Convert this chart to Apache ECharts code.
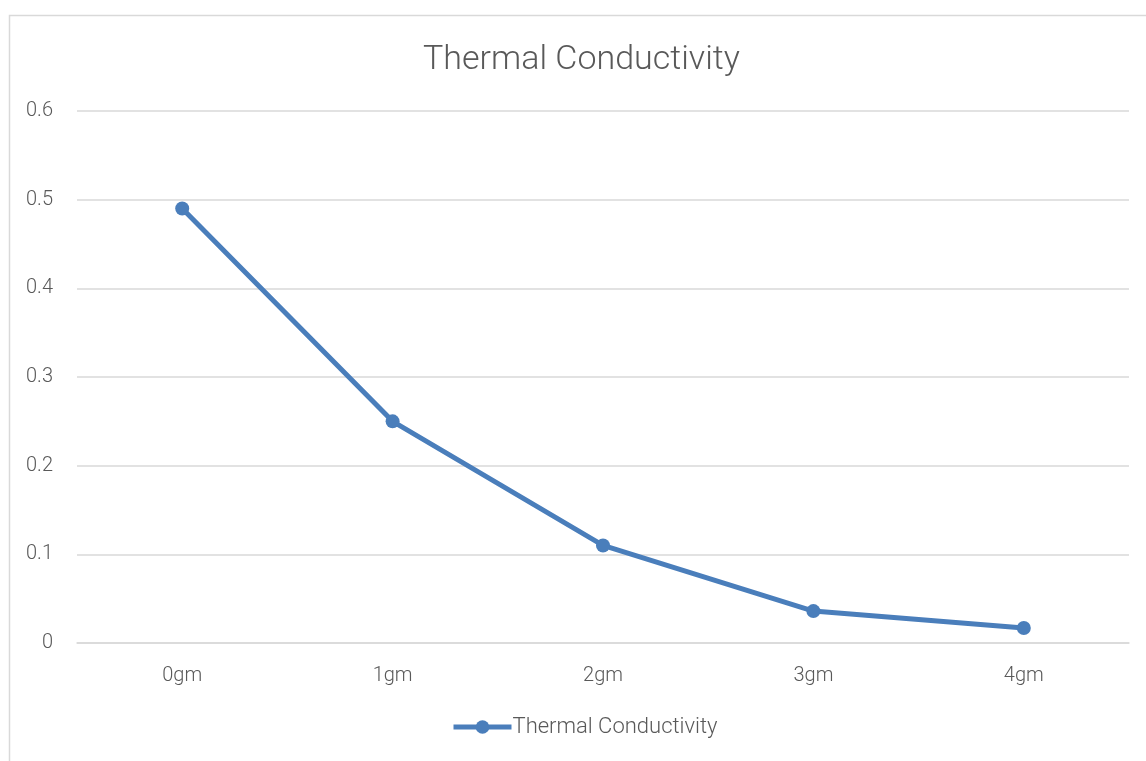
<!DOCTYPE html>
<html><head><meta charset="utf-8">
<script src="https://cdn.jsdelivr.net/npm/echarts@6/dist/echarts.min.js"></script>
<style>html,body{margin:0;padding:0;background:#fff}#c{width:1146px;height:761px}</style>
</head><body><div id="c"></div>
<script>
const categories = ['0gm', '1gm', '2gm', '3gm', '4gm'];
const thermalConductivity = [0.49, 0.25, 0.11, 0.036, 0.017];
const seriesName = 'Thermal Conductivity';

const chart = echarts.init(document.getElementById('c'));
chart.setOption({
  backgroundColor: '#fff',
  animation: false,
  graphic: [{
    type: 'rect', left: 7, top: 13,
    shape: { width: 1200, height: 800 },
    style: { fill: 'none', stroke: '#d9d9d9', lineWidth: 1.5 },
    silent: true
  }],
  title: {
    text: 'Thermal Conductivity', left: 418, top: 38,
    textStyle: { fontFamily: 'Roboto', fontWeight: 300, fontSize: 34, color: '#595959' }
  },
  legend: {
    bottom: 18, left: 446,
    itemWidth: 58, itemHeight: 17, itemGap: 10,
    lineStyle: { width: 5 },
    textStyle: { fontFamily: 'Roboto', fontWeight: 300, fontSize: 22, color: '#595959', padding: [0, 0, 0, -4] },
    data: [seriesName]
  },
  grid: { left: 77, right: 17, top: 111, bottom: 118, containLabel: false },
  xAxis: {
    type: 'category', data: categories, boundaryGap: true,
    axisLine: { lineStyle: { color: '#d9d9d9', width: 1.5 } },
    axisTick: { show: false },
    axisLabel: { fontFamily: 'Roboto', fontWeight: 300, fontSize: 20, color: '#595959', margin: 23 }
  },
  yAxis: {
    type: 'value', min: 0, max: 0.6, interval: 0.1,
    axisLine: { show: false }, axisTick: { show: false },
    splitLine: { lineStyle: { color: '#d9d9d9', width: 1.5 } },
    axisLabel: { fontFamily: 'Roboto', fontWeight: 300, fontSize: 20, color: '#595959', margin: 24,
      formatter: v => String(Math.round(v * 10) / 10) }
  },
  series: [{
    name: seriesName, type: 'line', data: thermalConductivity,
    symbol: 'circle', symbolSize: 14,
    lineStyle: { color: '#4a7ebb', width: 5 },
    itemStyle: { color: '#4a7ebb' }
  }]
});
</script></body></html>
